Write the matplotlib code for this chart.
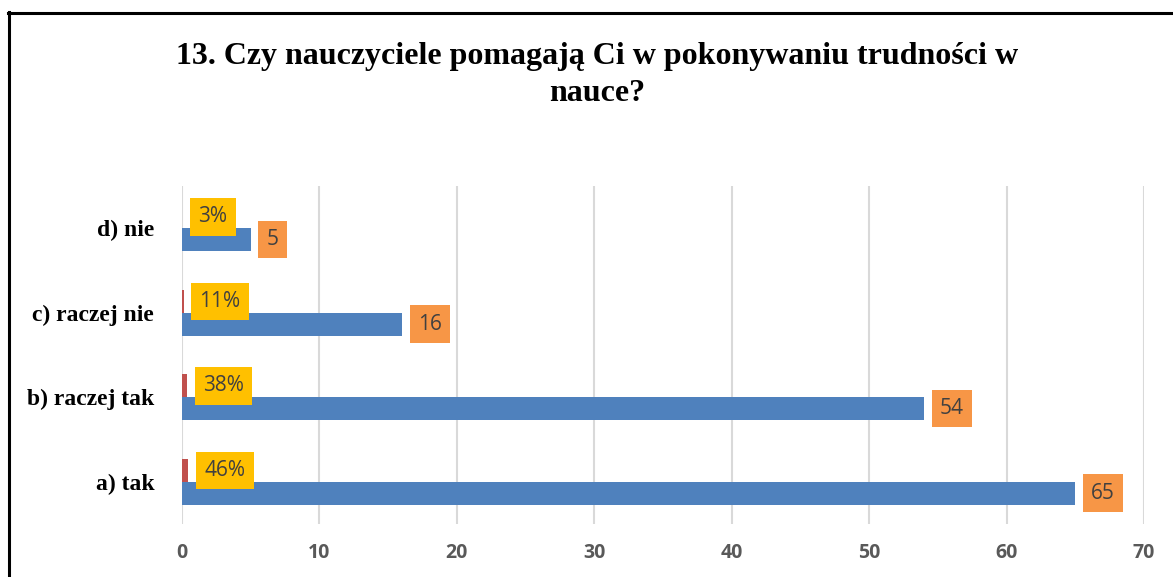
import matplotlib
matplotlib.use("Agg")
import matplotlib.pyplot as plt
from matplotlib.lines import Line2D
import numpy as np

# data
categories = ["a) tak", "b) raczej tak", "c) raczej nie", "d) nie"]
counts = [65, 54, 16, 5]
shares = [0.46, 0.38, 0.11, 0.03]
title = "13. Czy nauczyciele pomagają Ci w pokonywaniu trudności w\nnauce?"

W, H = 1173, 577
fig = plt.figure(figsize=(W / 100, H / 100), dpi=100)
ax = fig.add_axes([182 / W, 1 - 524 / H, (1144 - 182) / W, (524 - 186) / H])

y = np.arange(len(categories))
h = 0.27
ax.barh(y + h / 2, shares, height=h, color="#C0504D")
ax.barh(y - h / 2, counts, height=h, color="#4F81BD")

lab_font = dict(family=["Open Sans", "DejaVu Sans"], fontsize=15, color="#404040")
for yi, c, s in zip(y, counts, shares):
    ax.annotate(str(c), (c, yi - h / 2), xytext=(11.5, 0), textcoords="offset points",
                ha="left", va="center", **lab_font,
                bbox=dict(boxstyle="square,pad=0.4", fc="#F79646", ec="none"))
    ax.annotate(f"{s:.0%}", (s, yi + h / 2), xytext=(11.5, 0), textcoords="offset points",
                ha="left", va="center", **lab_font,
                bbox=dict(boxstyle="square,pad=0.4", fc="#FFC000", ec="none"))

ax.set_xlim(0, 70)
ax.set_ylim(-0.5, len(categories) - 0.5)
ax.set_xticks(range(0, 71, 10))
ax.set_yticks(y)
ax.set_yticklabels(categories, family="Liberation Serif", fontweight="bold",
                   fontsize=17, color="black")
for t in ax.get_xticklabels():
    t.set_family(["Open Sans", "DejaVu Sans"])
    t.set_fontweight("bold")
    t.set_fontsize(14)
    t.set_color("#595959")
ax.tick_params(axis="x", length=0, pad=14)
ax.tick_params(axis="y", length=0, pad=20)
ax.grid(axis="x", color="#D9D9D9", linewidth=1.5)
ax.set_axisbelow(True)
for sp in ax.spines.values():
    sp.set_visible(False)

fig.text(597 / W, 1 - 42 / H, title, ha="center", va="top", family="Liberation Serif",
         fontweight="bold", fontsize=23, linespacing=1.37)

# outer frame (top and left edges visible)
fig.add_artist(Line2D([8 / W, 1], [1 - 13 / H] * 2, color="black", linewidth=2.2,
                      transform=fig.transFigure))
fig.add_artist(Line2D([9 / W] * 2, [0, 1 - 12 / H], color="black", linewidth=2.2,
                      transform=fig.transFigure))

fig.savefig("out.png", dpi=100)
